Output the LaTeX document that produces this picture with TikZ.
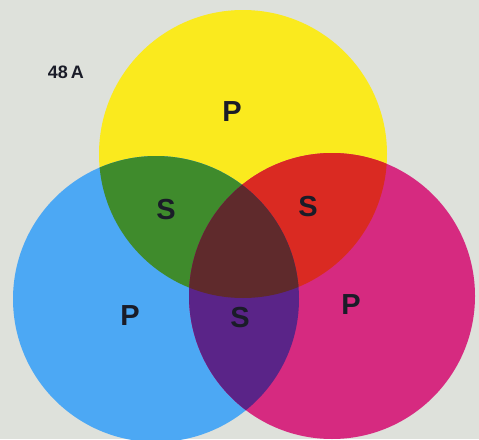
\documentclass[tikz,border=0pt]{standalone}
\usepackage{fontspec}
\setsansfont{Liberation Sans}
\usepackage{xcolor}
\usepackage{tikz}
\definecolor{paperGrey}{HTML}{DEE1DB}
\definecolor{inkYellow}{HTML}{FAEA1E}
\definecolor{inkCyan}{HTML}{4CA8F4}
\definecolor{inkMagenta}{HTML}{D62A80}
\definecolor{mixGreen}{HTML}{3F8B2C}
\definecolor{mixRed}{HTML}{DA2A22}
\definecolor{mixPurple}{HTML}{5A2488}
\definecolor{mixBrown}{HTML}{5F2A2C}
\definecolor{labelInk}{HTML}{1A1C28}

\tikzset{
  colourlabel/.style={font=\sffamily\bfseries\fontsize{29}{29}\selectfont, text=labelInk, inner sep=0pt},
  platelabel/.style={font=\sffamily\bfseries\fontsize{18}{18}\selectfont, text=labelInk, inner sep=0pt}
}

\begin{document}
\begin{tikzpicture}[x=1pt, y=-1pt]
  \fill[paperGrey] (0,0) rectangle (479,439);
  \useasboundingbox (0,0) rectangle (479,439);

  % the three primaries
  \fill[inkYellow]  (243,154) circle (144);
  \fill[inkCyan]    (156,299) circle (143);
  \fill[inkMagenta] (332,296) circle (143);

  % overlaps
  \begin{scope}
    \clip (243,154) circle (144);
    \fill[mixGreen] (156,299) circle (143);
    \fill[mixRed]   (332,296) circle (143);
  \end{scope}
  \begin{scope}
    \clip (156,299) circle (143);
    \fill[mixPurple] (332,296) circle (143);
    \clip (243,154) circle (144);
    \fill[mixBrown] (332,296) circle (143);
  \end{scope}

  \node[platelabel] (plate) at (66,72) {48\hspace{3pt}A};

  \node[colourlabel] (pYellow)  at (232,112) {P};
  \node[colourlabel] (pCyan)    at (130,316) {P};
  \node[colourlabel] (pMagenta) at (351,305) {P};
  \node[colourlabel] (sGreen)   at (166,210) {S};
  \node[colourlabel] (sRed)     at (308,207) {S};
  \node[colourlabel] (sPurple)  at (240,318) {S};
\end{tikzpicture}
\end{document}
